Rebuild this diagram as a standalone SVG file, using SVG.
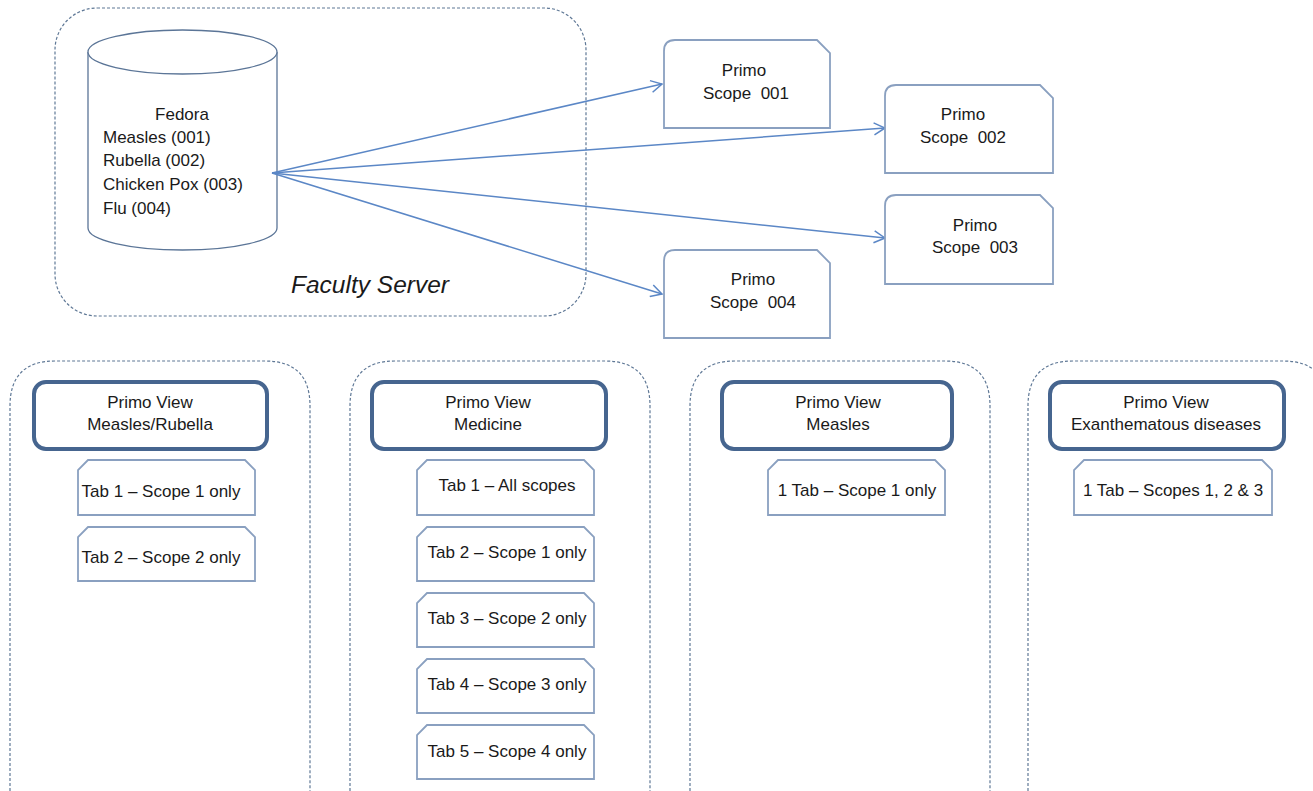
<svg xmlns="http://www.w3.org/2000/svg" width="1313" height="791" viewBox="0 0 1313 791">
<style>
text{font-family:"Liberation Sans",Arial,sans-serif;font-size:17px;fill:#1a1a1a}
.c{text-anchor:middle}
.dash{fill:none;stroke:#5f7896;stroke-width:1.2;stroke-dasharray:3 2}
.scope{fill:#fff;stroke:#8aa0c0;stroke-width:1.8}
.tab{fill:#fff;stroke:#8aa0c0;stroke-width:1.8}
.view{fill:#fff;stroke:#46658f;stroke-width:4}
.cyl{fill:#fff;stroke:#5b7597;stroke-width:1.3}
.conn{fill:none;stroke:#5b87c6;stroke-width:1.5}
</style>
<defs>
<marker id="arr" markerWidth="14" markerHeight="14" refX="12" refY="7" orient="auto" markerUnits="userSpaceOnUse">
<path d="M1,1 L12,7 L1,13" fill="none" stroke="#5b87c6" stroke-width="1.5"/>
</marker>
</defs>
<rect width="1313" height="791" fill="#fff"/>

<g id="faculty-server">
<rect class="dash" x="55" y="8" width="531" height="308" rx="42"/>
<text x="370" y="293" class="c" style="font-style:italic;font-size:24.5px">Faculty Server</text>
</g>

<g id="fedora">
<path class="cyl" d="M88,52 L88,228 A94.5,22 0 0 0 277,228 L277,52"/>
<ellipse class="cyl" cx="182.5" cy="52" rx="94.5" ry="22"/>
<text x="182" y="120" class="c">Fedora</text>
<text x="103" y="143">Measles (001)</text>
<text x="103" y="166">Rubella (002)</text>
<text x="103" y="190">Chicken Pox (003)</text>
<text x="103" y="214">Flu (004)</text>
</g>

<g id="connectors">
<line class="conn" x1="272" y1="173" x2="662" y2="84" marker-end="url(#arr)"/>
<line class="conn" x1="272" y1="173" x2="885" y2="128" marker-end="url(#arr)"/>
<line class="conn" x1="272" y1="173" x2="885" y2="238" marker-end="url(#arr)"/>
<line class="conn" x1="272" y1="173" x2="662" y2="294" marker-end="url(#arr)"/>
</g>

<g id="scope-001">
<path class="scope" d="M664,128 L664,51 Q664,40 675,40 L817,40 L830,53 L830,128 Z"/>
<text x="744" y="76" class="c">Primo</text>
<text x="746" y="99" class="c">Scope&#160; 001</text>
</g>
<g id="scope-002">
<path class="scope" d="M885,173 L885,96 Q885,85 896,85 L1040,85 L1053,98 L1053,173 Z"/>
<text x="963" y="120" class="c">Primo</text>
<text x="963" y="143" class="c">Scope&#160; 002</text>
</g>
<g id="scope-003">
<path class="scope" d="M885,284 L885,206 Q885,195 896,195 L1040,195 L1053,208 L1053,284 Z"/>
<text x="975" y="231" class="c">Primo</text>
<text x="975" y="253" class="c">Scope&#160; 003</text>
</g>
<g id="scope-004">
<path class="scope" d="M664,338 L664,261 Q664,250 675,250 L817,250 L830,263 L830,338 Z"/>
<text x="753" y="285" class="c">Primo</text>
<text x="753" y="308" class="c">Scope&#160; 004</text>
</g>

<g id="col-1">
<path class="dash" d="M10,791 L10,406 Q10,361 55,361 L265,361 Q310,361 310,406 L310,791"/>
</g>
<g id="view-measles-rubella">
<rect class="view" x="34" y="382" width="233" height="67" rx="12"/>
<text x="150" y="408" class="c">Primo View</text>
<text x="150" y="430" class="c">Measles/Rubella</text>
</g>
<g id="tab-mr-1">
<path class="tab" d="M78,515 L78,470 L88,460 L245,460 L255,470 L255,515 Z"/>
<text x="161" y="497" class="c">Tab 1 – Scope 1 only</text>
</g>
<g id="tab-mr-2">
<path class="tab" d="M78,581 L78,537 L88,527 L245,527 L255,537 L255,581 Z"/>
<text x="161" y="563" class="c">Tab 2 – Scope 2 only</text>
</g>

<g id="col-2">
<path class="dash" d="M350,791 L350,406 Q350,361 395,361 L605,361 Q650,361 650,406 L650,791"/>
</g>
<g id="view-medicine">
<rect class="view" x="372" y="382" width="234" height="67" rx="12"/>
<text x="488" y="408" class="c">Primo View</text>
<text x="488" y="430" class="c">Medicine</text>
</g>
<g id="tab-med-1">
<path class="tab" d="M417,515 L417,470 L427,460 L584,460 L594,470 L594,515 Z"/>
<text x="507" y="491" class="c">Tab 1 – All scopes</text>
</g>
<g id="tab-med-2">
<path class="tab" d="M417,581 L417,537 L427,527 L584,527 L594,537 L594,581 Z"/>
<text x="507" y="558" class="c">Tab 2 – Scope 1 only</text>
</g>
<g id="tab-med-3">
<path class="tab" d="M417,647 L417,603 L427,593 L584,593 L594,603 L594,647 Z"/>
<text x="507" y="624" class="c">Tab 3 – Scope 2 only</text>
</g>
<g id="tab-med-4">
<path class="tab" d="M417,713 L417,669 L427,659 L584,659 L594,669 L594,713 Z"/>
<text x="507" y="690" class="c">Tab 4 – Scope 3 only</text>
</g>
<g id="tab-med-5">
<path class="tab" d="M417,779 L417,735 L427,725 L584,725 L594,735 L594,779 Z"/>
<text x="507" y="757" class="c">Tab 5 – Scope 4 only</text>
</g>

<g id="col-3">
<path class="dash" d="M690,791 L690,406 Q690,361 735,361 L945,361 Q990,361 990,406 L990,791"/>
</g>
<g id="view-measles">
<rect class="view" x="722" y="382" width="230" height="67" rx="12"/>
<text x="838" y="408" class="c">Primo View</text>
<text x="838" y="430" class="c">Measles</text>
</g>
<g id="tab-m-1">
<path class="tab" d="M768,515 L768,470 L778,460 L935,460 L945,470 L945,515 Z"/>
<text x="857" y="496" class="c">1 Tab – Scope 1 only</text>
</g>

<g id="col-4">
<path class="dash" d="M1028,791 L1028,406 Q1028,361 1073,361 L1283,361 Q1328,361 1328,406 L1328,791"/>
</g>
<g id="view-exanthematous">
<rect class="view" x="1050" y="382" width="234" height="67" rx="12"/>
<text x="1166" y="408" class="c">Primo View</text>
<text x="1166" y="430" class="c">Exanthematous diseases</text>
</g>
<g id="tab-e-1">
<path class="tab" d="M1074,515 L1074,470 L1084,460 L1262,460 L1272,470 L1272,515 Z"/>
<text x="1173" y="496" class="c">1 Tab – Scopes 1, 2 &amp; 3</text>
</g>
</svg>
